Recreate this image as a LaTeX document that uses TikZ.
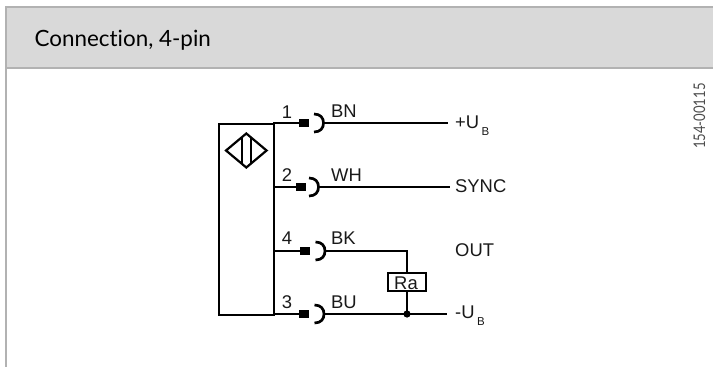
\documentclass[tikz,border=0pt]{standalone}
\usepackage{fontspec}
\setmainfont{Liberation Sans}
\newfontfamily\headfont[Ligatures=NoCommon]{Lato}
\begin{document}
\begin{tikzpicture}[x=1pt,y=-1pt,
  wire/.style={line width=2.5pt},
  frameline/.style={draw=black!30,line width=1.7pt},
  lbl/.style={font=\fontsize{18.4}{19}\selectfont,text=black!90,inner sep=0pt},
  pin/.style={fill=black,minimum width=10.5pt,minimum height=7.5pt,inner sep=0pt,draw=none},
  socket/.style={line width=2.7pt},
  sub/.style={font=\fontsize{11.5}{12}\selectfont,text=black!90,inner sep=0pt}]
\useasboundingbox (0,0) rectangle (713,367);
% frame
\fill[black!15] (6,7) rectangle (713,68);
\draw[frameline] (713,7) -- (6,7) -- (6,367);
\draw[frameline] (6,68) -- (713,68);
\node[anchor=base west,inner sep=0pt,font=\headfont\fontsize{22.4}{24}\selectfont] (title) at (34.5,46.7) {Connection, 4-pin};
\node[rotate=90,anchor=base east,inner sep=0pt,text=black!70,font=\headfont\fontsize{16}{16}\selectfont] (code) at (705,83) {\scalebox{0.82}[1]{154-00115}};
% sensor box
\node[draw,line width=2.1pt,minimum width=55pt,minimum height=191pt,inner sep=0pt,anchor=north west] (box) at (218,123) {};
% sensor symbol
\draw[line width=2.2pt,line join=miter] (226,150.5) -- (246.3,133.5) -- (266.6,150.5) -- (246.3,167.5) -- cycle;
\draw[line width=2.2pt] (241.8,137) -- (241.8,164) (250.7,137) -- (250.7,164);
% pins
\node[pin] (p1) at (304,123) {};
\node[pin] (p2) at (301,187) {};
\node[pin] (p4) at (305,251) {};
\node[pin] (p3) at (304,314) {};
\coordinate (s1) at (323.5,123);
\coordinate (s2) at (318.5,187);
\coordinate (s4) at (325,251);
\coordinate (s3) at (324,314);
\coordinate (e1) at (448,123);
\coordinate (e2) at (450,187);
\coordinate (e3) at (447,314);
\coordinate (c4) at (407,251);
\coordinate (c3) at (407,314);
\foreach \n/\y in {p1/123,p2/187,p4/251,p3/314}{\draw[wire] (273,\y) -- (\n.center);}
\foreach \n in {s1,s2,s4,s3}{
  \draw[socket] ([shift={(-9.5,-9)}]\n) .. controls ([shift={(-3,-9)}]\n) and ([shift={(0,-5)}]\n) .. (\n) .. controls ([shift={(0,5)}]\n) and ([shift={(-3,9)}]\n) .. ([shift={(-9.5,9)}]\n);
}
\draw[wire] (s1) -- (e1);
\draw[wire] (s2) -- (e2);
\draw[wire] (s3) -- (e3);
\draw[wire,line join=miter] (s4) -- (c4) -- (c3);
\fill (c3) circle (3.6pt);
\node[draw,line width=1.7pt,fill=white,minimum width=38pt,minimum height=18pt,inner sep=0pt] (ra) at (407,282) {};
\node[lbl,anchor=base] (ratext) at (406,289) {Ra};
% labels
\node[lbl,anchor=base] (n1) at (287,118) {1};
\node[lbl,anchor=base] (n2) at (287,181) {2};
\node[lbl,anchor=base] (n4) at (287,244) {4};
\node[lbl,anchor=base] (n3) at (287,308) {3};
\node[lbl,anchor=base west] (l1) at (331,117) {BN};
\node[lbl,anchor=base west] (l2) at (331,181) {WH};
\node[lbl,anchor=base west] (l4) at (331,244) {BK};
\node[lbl,anchor=base west] (l3) at (331,308) {BU};
\node[lbl,anchor=base west] (t1) at (455,128.3) {+U};
\node[sub,anchor=base west] (t1b) at (t1.base east) [xshift=2pt,yshift=-6.7pt] {B};
\node[lbl,anchor=base west] (t2) at (455,192.7) {SYNC};
\node[lbl,anchor=base west] (t4) at (455,256) {OUT};
\node[lbl,anchor=base west] (t3) at (455,318.5) {-U};
\node[sub,anchor=base west] (t3b) at (t3.base east) [xshift=2pt,yshift=-6.7pt] {B};
\end{tikzpicture}
\end{document}
